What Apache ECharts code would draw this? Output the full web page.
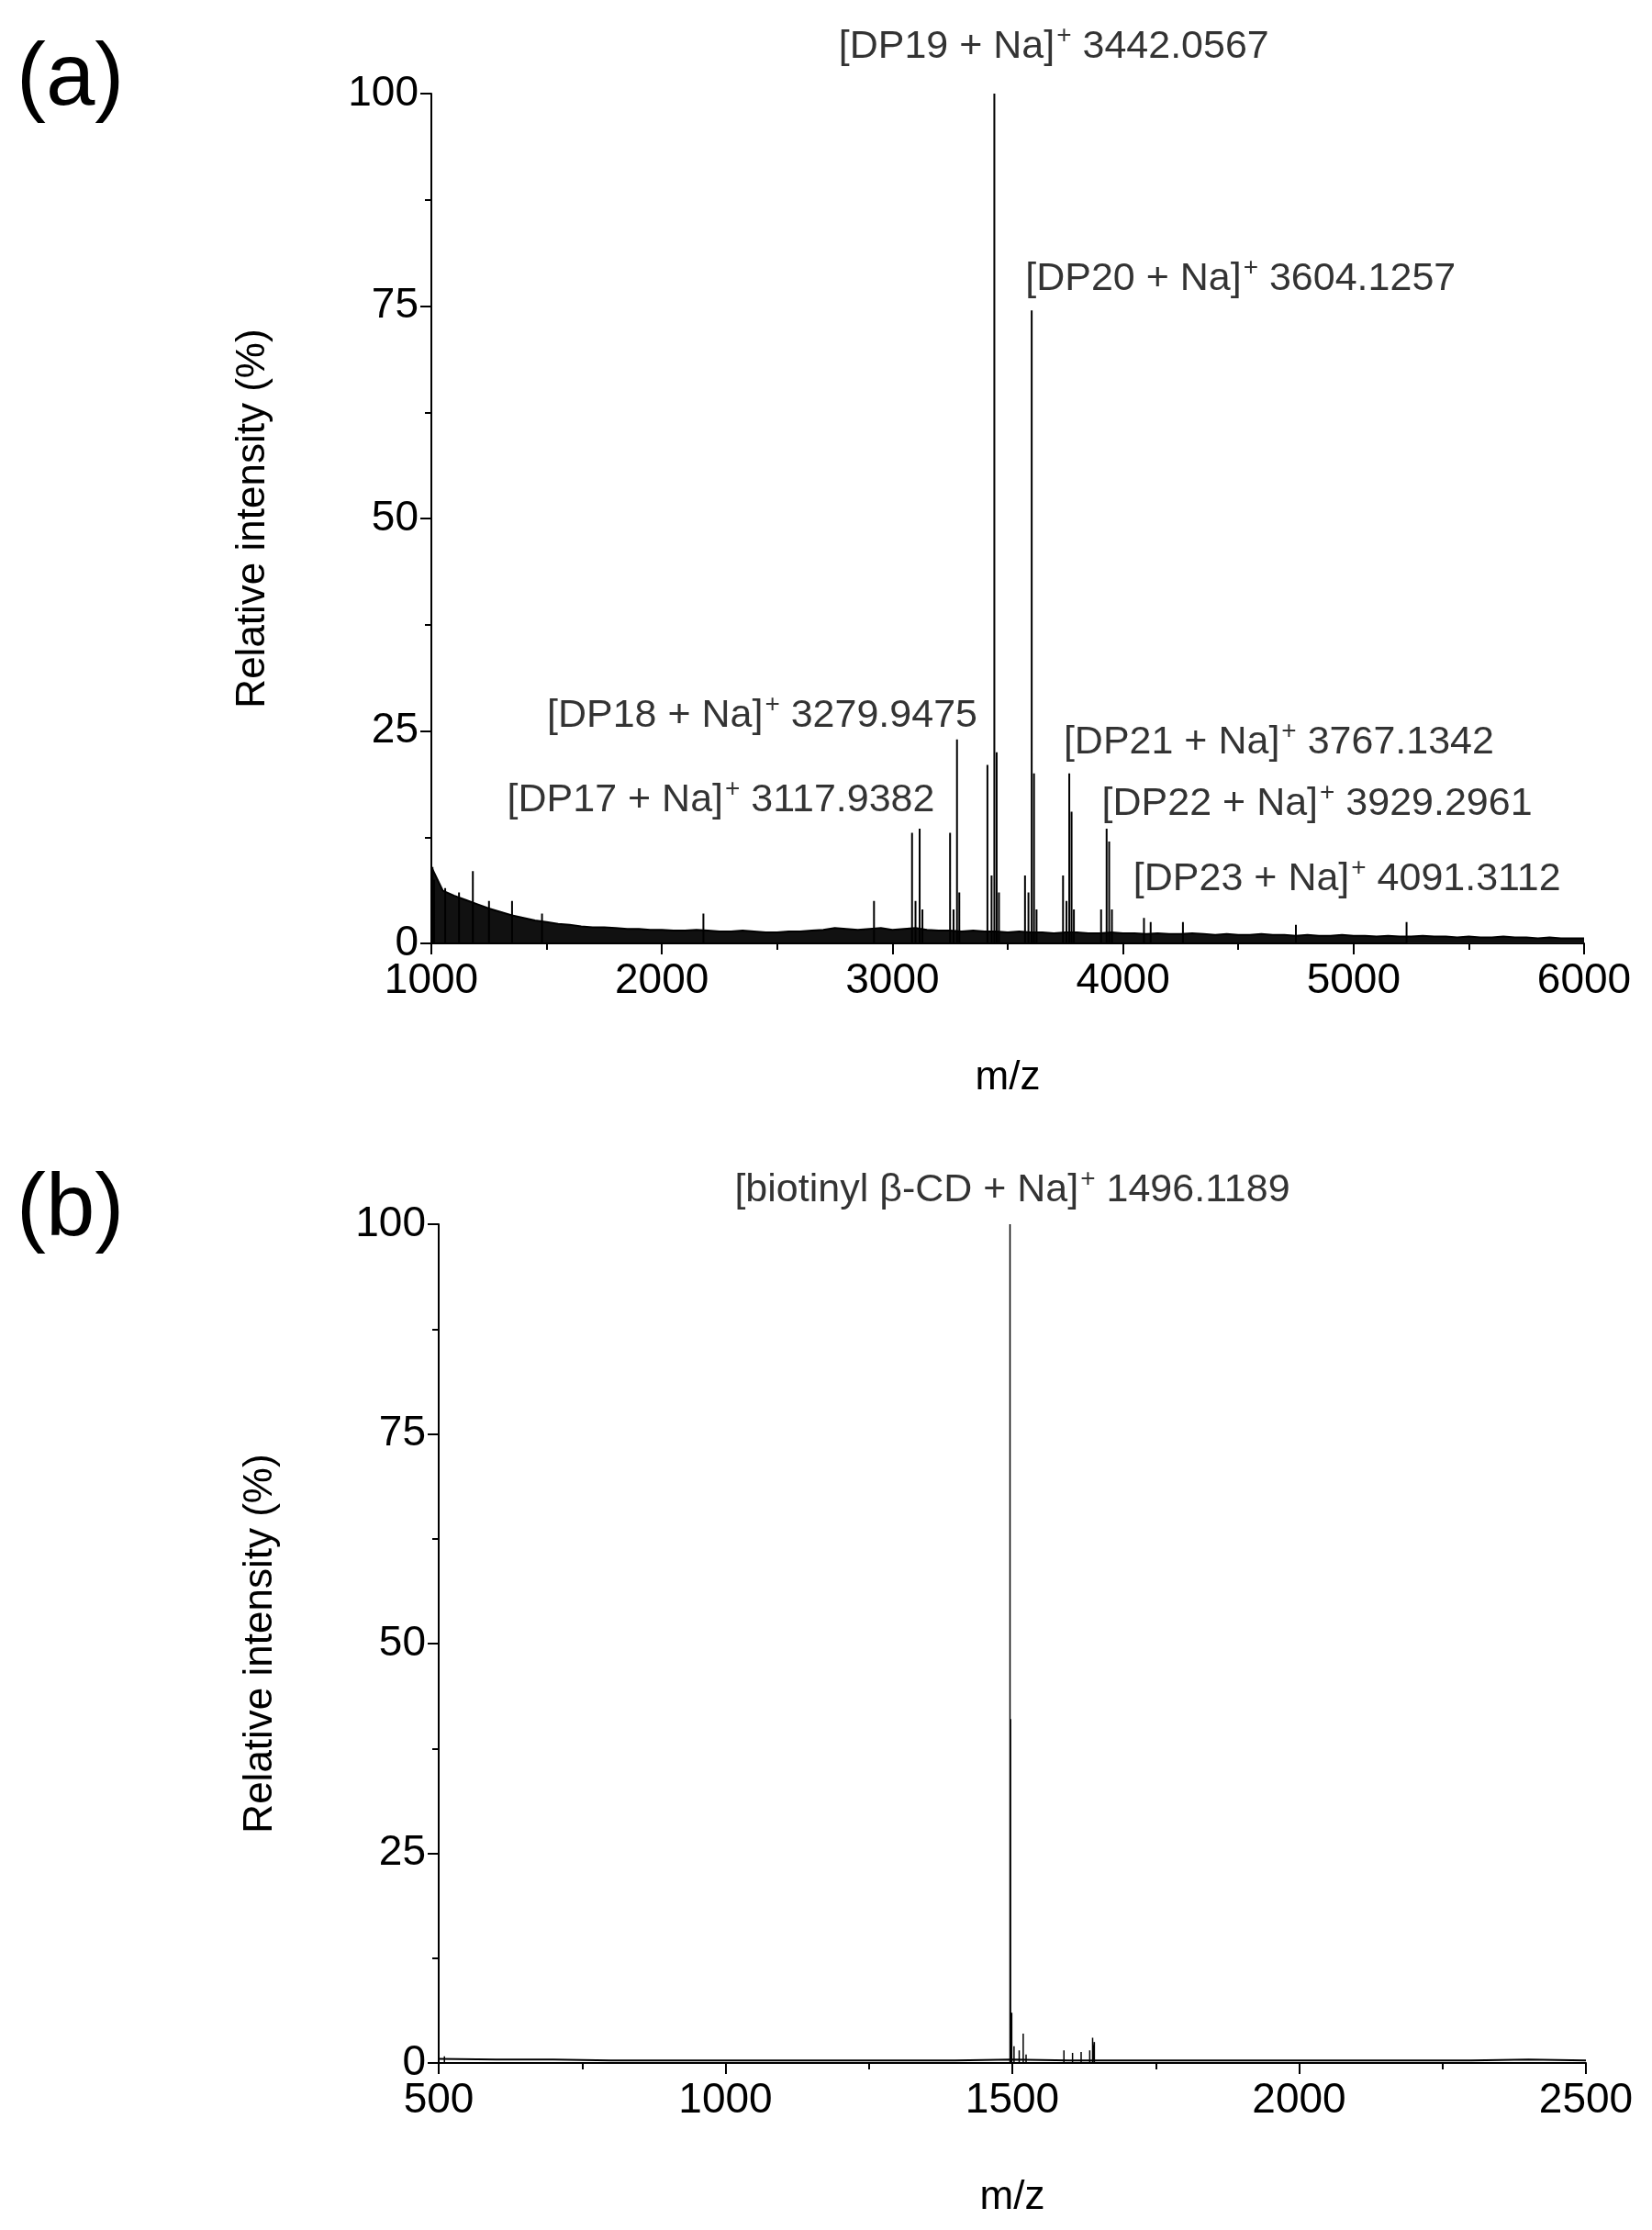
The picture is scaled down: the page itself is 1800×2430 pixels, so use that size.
<!DOCTYPE html>
<html><head><meta charset="utf-8">
<script src="https://cdn.jsdelivr.net/npm/echarts@6/dist/echarts.min.js"></script>
<style>html,body{margin:0;background:#fff}#c{width:1800px;height:2430px}</style>
</head><body><div id="c"></div>
<script>
// Panel (a): baseline envelope every 50 m/z from 1000 to 6000
const baseStartA = 1000, baseStepA = 50;
const baselineA = [9,6.2,5.6,5.1,4.6,4.1,3.7,3.3,3.0,2.7,2.5,2.3,2.2,2.0,1.9,1.9,1.8,1.7,1.7,1.6,
  1.6,1.5,1.5,1.6,1.5,1.4,1.4,1.5,1.4,1.3,1.3,1.4,1.4,1.5,1.6,1.8,1.7,1.6,1.7,1.8,
  1.6,1.7,1.8,1.6,1.5,1.5,1.4,1.5,1.4,1.4,1.3,1.4,1.3,1.3,1.2,1.3,1.3,1.2,1.2,1.3,
  1.2,1.2,1.1,1.2,1.1,1.1,1.2,1.1,1.0,1.1,1.0,1.0,1.1,1.0,1.0,0.9,1.0,0.9,0.9,1.0,
  0.9,0.9,0.8,0.9,0.8,0.8,0.9,0.8,0.8,0.7,0.8,0.7,0.7,0.8,0.7,0.7,0.6,0.7,0.6,0.6,0.6];
const peaksA = [[1000,15.5],[1005,9],[1012,7.5],[1060,6.5],[1120,6],[1180,8.5],[1250,5],[1350,5],[1480,3.5],
  [2180,3.5],[2920,5],[3085,13],[3100,5],[3118,13.5],[3130,4],[3250,13],[3265,4],[3280,24],[3290,6],
  [3412,21],[3430,8],[3442,100],[3452,22.5],[3462,6],[3575,8],[3590,6],[3604,74.5],[3614,20],[3625,4],
  [3740,8],[3755,5],[3767,20],[3777,15.5],[3787,4],[3905,4],[3929,13.5],[3940,12],[3952,4],
  [4091,3],[4120,2.5],[4260,2.5],[4750,2.2],[5230,2.5]];
const labelsA = [
  ['[DP19 + Na]', ' 3442.0567', 3700, 105.5],
  ['[DP20 + Na]', ' 3604.1257', 4510, 78.2],
  ['[DP18 + Na]', ' 3279.9475', 2435, 26.8],
  ['[DP17 + Na]', ' 3117.9382', 2256, 16.8],
  ['[DP21 + Na]', ' 3767.1342', 4676, 23.6],
  ['[DP22 + Na]', ' 3929.2961', 4842, 16.4],
  ['[DP23 + Na]', ' 4091.3112', 4972, 7.5]
];
// Panel (b)
const baseStartB = 500, baseStepB = 100;
const baselineB = [0.5,0.4,0.4,0.3,0.3,0.3,0.3,0.3,0.3,0.3,0.4,0.3,0.3,0.3,0.3,0.3,0.3,0.3,0.3,0.4,0.3];
const peaksB = [[510,0.8],[1496,100],[1497,41],[1499,6],[1503,2],[1512,1.5],[1519,3.5],[1524,1],
  [1590,1.5],[1605,1.2],[1620,1.3],[1635,1.5],[1640,3],[1643,2.5]];
const labelsB = [['[biotinyl β-CD + Na]', ' 1496.1189', 1500, 104]];

const xTicksA = [1000, 6000, 1000];
const xTicksB = [500, 2500, 500];
const yTicks = [0, 100, 25];

function sticks(p){const d=[];p.forEach(([m,h])=>{d.push([m,0],[m,h],[m,0]);});return d;}
function base(start,step,v){return v.map((y,i)=>[start+i*step,y]);}
const F='Liberation Sans, Arial, sans-serif';
function labelSeries(list, idx){
  return {type:'scatter', xAxisIndex:idx, yAxisIndex:idx, clip:false, symbolSize:0, silent:true,
    data:list.map(l=>({value:[l[2],l[3]], label:{show:true, position:'inside',
      formatter:'{a|'+l[0]+'}{s|+}{a|'+l[1]+'}'}})),
    label:{rich:{a:{fontSize:43,fontFamily:F,color:'#000'},s:{fontSize:28,fontFamily:F,color:'#000',verticalAlign:'top',padding:[0,0,24,2]}}}};
}
function xAx(idx,t){return {type:'value',gridIndex:idx,min:t[0],max:t[1],interval:t[2],name:'m/z',nameLocation:'middle',nameGap:125,
  nameTextStyle:{fontSize:44,fontFamily:F,color:'#000'},
  axisLine:{lineStyle:{color:'#000',width:2}},axisTick:{length:12,lineStyle:{color:'#000',width:2}},
  minorTick:{show:true,splitNumber:2,length:7,lineStyle:{color:'#000',width:2}},
  axisLabel:{fontSize:46,fontFamily:F,color:'#000',margin:18,formatter:v=>String(v)},splitLine:{show:false}};}
function yAx(idx){return {type:'value',gridIndex:idx,min:yTicks[0],max:yTicks[1],interval:yTicks[2],name:'Relative intensity (%)',
  nameLocation:'middle',nameGap:172,nameTextStyle:{fontSize:44,fontFamily:F,color:'#000'},
  axisLine:{show:true,lineStyle:{color:'#000',width:2}},axisTick:{show:true,length:12,lineStyle:{color:'#000',width:2}},
  minorTick:{show:true,splitNumber:2,length:7,lineStyle:{color:'#000',width:2}},
  axisLabel:{fontSize:46,fontFamily:F,color:'#000',margin:14},splitLine:{show:false}};}
const ch = echarts.init(document.getElementById('c'));
ch.setOption({
  backgroundColor:'#fff', animation:false,
  grid:[{left:470,right:74,top:102,height:926},{left:478,right:72,top:1334,height:914}],
  xAxis:[xAx(0,xTicksA),xAx(1,xTicksB)],
  yAxis:[yAx(0),yAx(1)],
  graphic:[{type:'text',left:18,top:40,style:{text:'(a)',fontSize:96,fontFamily:F,fill:'#000'}},
           {type:'text',left:18,top:1272,style:{text:'(b)',fontSize:96,fontFamily:F,fill:'#000'}}],
  series:[
    {type:'line',xAxisIndex:0,yAxisIndex:0,data:base(baseStartA,baseStepA,baselineA),symbol:'none',
      lineStyle:{color:'#000',width:2},areaStyle:{color:'#111',opacity:1}},
    {type:'line',xAxisIndex:0,yAxisIndex:0,data:sticks(peaksA),symbol:'none',lineStyle:{color:'#000',width:2}},
    {type:'line',xAxisIndex:1,yAxisIndex:1,data:base(baseStartB,baseStepB,baselineB),symbol:'none',
      lineStyle:{color:'#000',width:2}},
    {type:'line',xAxisIndex:1,yAxisIndex:1,data:sticks(peaksB),symbol:'none',lineStyle:{color:'#000',width:1.5}},
    labelSeries(labelsA,0), labelSeries(labelsB,1)
  ]
});
</script></body></html>
